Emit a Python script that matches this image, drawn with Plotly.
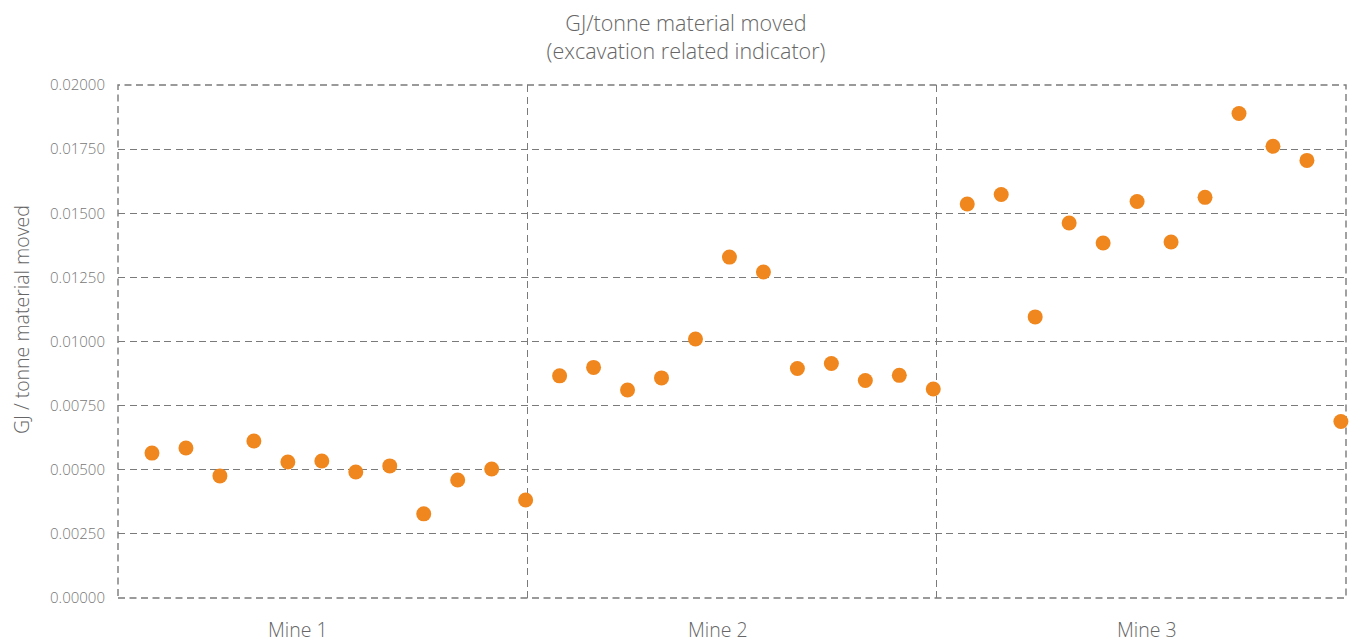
import plotly.graph_objects as go

# one point per period, 12 per mine
mines = ["Mine 1", "Mine 2", "Mine 3"]
mine1 = [0.00565, 0.00585, 0.00476, 0.00612, 0.00530, 0.00534,
         0.00491, 0.00515, 0.00328, 0.00460, 0.00503, 0.00382]
mine2 = [0.00866, 0.00899, 0.00811, 0.00858, 0.01010, 0.01329,
         0.01271, 0.00895, 0.00914, 0.00848, 0.00868, 0.00815]
mine3 = [0.01536, 0.01573, 0.01096, 0.01462, 0.01384, 0.01546,
         0.01388, 0.01562, 0.01889, 0.01761, 0.01706, 0.00688]
y_ticks = [0, 0.0025, 0.005, 0.0075, 0.01, 0.0125, 0.015, 0.0175, 0.02]

values = mine1 + mine2 + mine3
x = list(range(1, len(values) + 1))

span = 36.15
bounds = [0, span / 3, 2 * span / 3, span]
label_pos = [5.3, 17.65, 30.3]

font = "'Open Sans', Lato, sans-serif"
gridcol = "#7a7a7a"
dash = "7px,4.5px"
grid = dict(showgrid=True, gridcolor=gridcol, griddash=dash, gridwidth=1.4)

fig = go.Figure(go.Scatter(
    x=x, y=values, mode="markers",
    marker=dict(size=15, color="#f0871e", line=dict(width=0)),
    cliponaxis=False, hoverinfo="y",
))

# page body has an 8px margin, so the figure is shrunk by that much
fig.update_layout(
    width=1356, height=636,
    margin=dict(l=110, r=18, t=77, b=46),
    plot_bgcolor="white", paper_bgcolor="white",
    showlegend=False,
    font=dict(family=font, color="#777777", weight=300),
    title=dict(text="GJ/tonne material moved<br>(excavation related indicator)",
               x=0.5, xref="container", y=0.964, yanchor="top",
               font=dict(size=21.5, color="#666666", weight=300)),
    xaxis=dict(range=[0, span], tickvals=bounds,
               ticktext=["", "", "", ""],
               zeroline=False, showline=False, ticks="", **grid),
    yaxis=dict(range=[0, 0.02], tickvals=y_ticks, tickformat=".5f",
               tickfont=dict(size=15, color="#777777", weight=300), ticks="",
               zeroline=False, showline=False, ticklabelstandoff=12,
               **grid),
)

# dashed frame: the edge grid lines plotly leaves out
fig.add_shape(type="rect", xref="paper", yref="paper", x0=0, x1=1, y0=0, y1=1,
              line=dict(color=gridcol, width=1.4, dash=dash), layer="below")

fig.add_annotation(x=-0.0781, y=0.542, xref="paper", yref="paper",
                   xanchor="center", yanchor="middle", textangle=-90,
                   text="GJ / tonne material moved", showarrow=False,
                   borderpad=0,
                   font=dict(size=19.5, color="#666666", weight=300))

for name, pos in zip(mines, label_pos):
    fig.add_annotation(x=pos, y=0, xref="x", yref="paper", yshift=-31,
                       yanchor="middle", text=name, showarrow=False,
                       font=dict(size=19.5, color="#666666", weight=300))

fig.write_html("out.html")
